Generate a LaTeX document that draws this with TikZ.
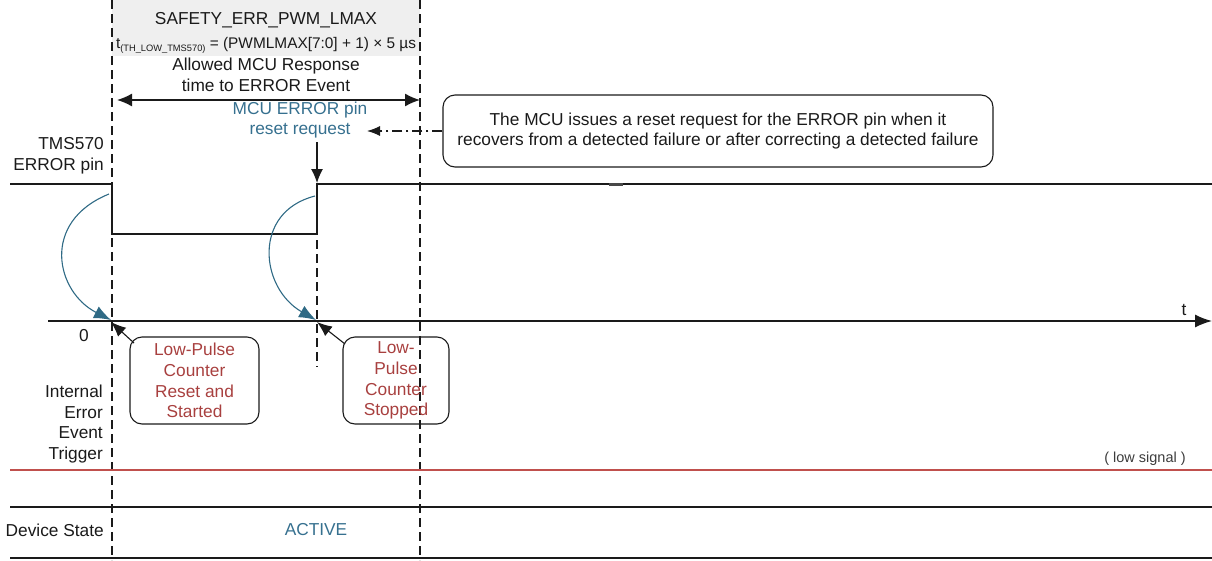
\documentclass[tikz,border=0pt]{standalone}
\usepackage{fontspec}
\setmainfont{Liberation Sans}
\usetikzlibrary{arrows.meta}
\definecolor{tealc}{HTML}{36708F}
\definecolor{tealarr}{HTML}{2F6A85}
\definecolor{redtxt}{HTML}{A8403F}
\definecolor{redline}{HTML}{C0504D}
\definecolor{hdrgray}{HTML}{EFEFEF}
\definecolor{ink}{HTML}{1A1A1A}
\begin{document}
\begin{tikzpicture}[x=1pt,y=-1pt,
  lbl/.style={font=\fontsize{17.3}{20.7}\selectfont, inner sep=0pt, align=center, text=ink},
  vdash/.style={line width=1.1pt, dash pattern=on 9pt off 5pt, draw=ink},
  sig/.style={line width=1.8pt, draw=ink},
  bighead/.style={-{Latex[length=14pt,width=12pt]}},
  tealcurve/.style={draw=tealarr, line width=1.1pt, -{Latex[length=17pt,width=13pt]}},
  callbox/.style={draw=ink, line width=1.1pt, rounded corners=12pt, inner sep=0pt},
]
\useasboundingbox (0,0) rectangle (1212,560);

% header band
\fill[hdrgray] (112,0) rectangle (420,56);

% vertical dashed markers
\coordinate (vlT) at (112,0); \coordinate (vlB) at (112,560);
\coordinate (vrT) at (420,0); \coordinate (vrB) at (420,560);
\coordinate (vmT) at (317,142); \coordinate (vmB) at (317,367);
\draw[vdash] (vlT) -- (vlB);
\draw[vdash] (vrT) -- (vrB);
\draw[vdash] (vmT) -- (vmB);

% header texts
\node[lbl] (title) at (266,20) {SAFETY\_ERR\_PWM\_LMAX};
\node[lbl, font=\fontsize{15.4}{17}\selectfont] (formula) at (266,45)
  {t\raisebox{-3pt}{\fontsize{9.3}{9.3}\selectfont (TH\_LOW\_TMS570)} = (PWMLMAX[7:0] + 1) × 5 µs};
\node[lbl] (allowed) at (266,75) {Allowed MCU Response\\time to ERROR Event};

% double arrow
\coordinate (aL) at (117,100);
\coordinate (aR) at (420,100);
\draw[line width=1.4pt, draw=ink, {Latex[length=15pt,width=13pt]}-{Latex[length=15pt,width=13pt]}] (aL) -- (aR);

% reset request label
\node[lbl, text=tealc] (mcu) at (300,120) {MCU ERROR pin\\reset request};

% explanatory callout
\node[callbox, lbl, minimum width=550pt, minimum height=72pt] (note) at (718,131)
  {The MCU issues a reset request for the ERROR pin when it\\recovers from a detected failure or after correcting a detected failure};
\coordinate (rqtip) at (367,131);
\draw[draw=ink, line width=1.1pt, dash pattern=on 10pt off 4pt on 2pt off 4pt, -{Latex[length=13pt,width=10pt]}] (note.west) -- (rqtip);

% arrow down to rising edge
\coordinate (rrTop) at (317,150);
\coordinate (rrTip) at (317,183);
\draw[draw=ink, line width=1.1pt, bighead] (rrTop) -- (rrTip);

% ERROR pin signal
\node[lbl, anchor=east, align=right] (pinlbl) at (104,156) {TMS570\\ERROR pin};
\coordinate (s0) at (10,184);
\coordinate (s1) at (112,184);
\coordinate (s2) at (112,234);
\coordinate (s3) at (317,234);
\coordinate (s4) at (317,184);
\coordinate (s5) at (1212,184);
\draw[sig] (s0) -- (s1) -- (s2) -- (s3) -- (s4) -- (s5);
\coordinate (m1) at (609,184); \coordinate (m2) at (623,184);
\draw[line width=3pt, draw=ink!80] (m1) -- (m2);

% time axis
\coordinate (ax0) at (48,321);
\coordinate (ax1) at (1212,321);
\draw[line width=1.4pt, draw=ink, -{Latex[length=17pt,width=13pt]}] (ax0) -- (ax1);
\node[lbl] (tlbl) at (1184,310) {t};
\node[lbl] (zero) at (84,336) {0};

% teal curved arrows
\coordinate (c1s) at (109,194);
\coordinate (c1e) at (111,320);
\draw[tealcurve] (c1s) .. controls (40,222) and (56,292) .. (c1e);
\coordinate (c2s) at (315,196);
\coordinate (c2e) at (316,320);
\draw[tealcurve] (c2s) .. controls (252,212) and (260,288) .. (c2e);

% counter callouts
\node[callbox, lbl, text=redtxt, minimum width=129pt, minimum height=87pt] (lp1) at (194.5,380.5)
  {Low-Pulse\\Counter\\Reset and\\Started};
\node[callbox, lbl, text=redtxt, minimum width=106pt, minimum height=87pt] (lp2) at (396,380.5)
  {Low-\\Pulse\\Counter\\Stopped};
\coordinate (lp1c) at (134,343);
\coordinate (lp1t) at (111,322);
\draw[draw=ink, line width=1.1pt, -{Latex[length=15pt,width=12pt]}] (lp1c) -- (lp1t);
\coordinate (lp2c) at (345,344);
\coordinate (lp2t) at (317,322);
\draw[draw=ink, line width=1.1pt, -{Latex[length=15pt,width=12pt]}] (lp2c) -- (lp2t);

% internal error event trigger
\node[lbl, anchor=east, align=right] (trglbl) at (103,424) {Internal\\Error\\Event\\Trigger};
\coordinate (r0) at (10,470);
\coordinate (r1) at (1212,470);
\draw[draw=redline, line width=2.2pt] (r0) -- (r1);
\node[lbl, font=\fontsize{14.5}{16}\selectfont, text=ink!85] (lowsig) at (1145,459) {( low signal )};

% device state
\coordinate (b0) at (10,507);
\coordinate (b1) at (1212,507);
\coordinate (b2) at (10,558);
\coordinate (b3) at (1212,558);
\draw[sig] (b0) -- (b1);
\draw[sig] (b2) -- (b3);
\node[lbl, anchor=east] (devlbl) at (104,530) {Device State};
\node[lbl, text=tealc] (active) at (316,530) {ACTIVE};
\end{tikzpicture}
\end{document}
